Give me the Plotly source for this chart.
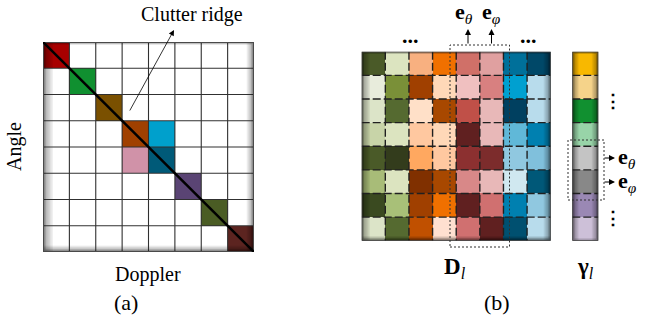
import plotly.graph_objects as go

W, H = 645, 323
SERIF = "Liberation Serif"

# ---------------- data ----------------
# Panel (a): angle-Doppler grid; 0 marks an empty cell, other values index the palette
grid_a_palette = ["#ffffff", "#a80000", "#109030", "#7a5000", "#a04000",
                  "#00a0cc", "#d092a8", "#005a78", "#5a4474", "#4a5c24", "#5c2420"]
grid_a = [
    [1, 0, 0, 0, 0, 0, 0, 0],
    [0, 2, 0, 0, 0, 0, 0, 0],
    [0, 0, 3, 0, 0, 0, 0, 0],
    [0, 0, 0, 4, 5, 0, 0, 0],
    [0, 0, 0, 6, 7, 0, 0, 0],
    [0, 0, 0, 0, 0, 8, 0, 0],
    [0, 0, 0, 0, 0, 0, 9, 0],
    [0, 0, 0, 0, 0, 0, 0, 10],
]

# Panel (b): dictionary D_l, one list of cell colours per column (top to bottom)
dict_columns = [
    ["#4a5a28", "#e8ecdc", "#dce4c8", "#c8d4a8", "#4a5a28", "#a8bc78", "#3a4a20", "#dce4c8"],
    ["#dce4c0", "#7a9038", "#556a30", "#dce4c0", "#333c1c", "#dce4c0", "#a8c078", "#556a30"],
    ["#f8b080", "#a04000", "#ffe0c8", "#ffc8a0", "#ffa860", "#803000", "#a04000", "#c05000"],
    ["#f07000", "#ffd8b8", "#a84800", "#ffd8b8", "#ffc8a0", "#a84800", "#f07000", "#ffe0d0"],
    ["#d07068", "#f0c0c0", "#c05048", "#602020", "#8c3030", "#d88888", "#602020", "#d07070"],
    ["#e0a0a0", "#d88080", "#e8b8b8", "#e8b8b8", "#7c2c2c", "#e8b8b8", "#d07070", "#602020"],
    ["#00709a", "#00a0d0", "#004060", "#60b8d8", "#90c8e0", "#d0e8f0", "#0080b0", "#005070"],
    ["#004868", "#b8dcec", "#b8dcec", "#0080b0", "#80c0dc", "#005878", "#90c8e0", "#b8dcec"],
]

# Panel (b): coefficient vector gamma_l (top to bottom)
gamma_colors = ["#f8b800", "#f5d38a", "#119030", "#98d4a8",
                "#c4c4c4", "#888888", "#9a88b4", "#cdc0d8"]

# ---------------- helpers ----------------
def px_x(v):
    return v / W


def px_y(v):
    return 1 - v / H


def palette_heatmap(color_rows, xa, ya):
    """Heatmap whose cells take the given colours via a stepped colour scale."""
    palette, z = [], []
    for row in color_rows:
        zr = []
        for c in row:
            if c not in palette:
                palette.append(c)
            zr.append(palette.index(c))
        z.append(zr)
    n = len(palette)
    scale = []
    for i, c in enumerate(palette):
        scale.append([i / n, c])
        scale.append([(i + 1) / n, c])
    return go.Heatmap(z=z, colorscale=scale, zmin=-0.5, zmax=n - 0.5,
                      showscale=False, hoverinfo="skip", xaxis=xa, yaxis=ya)


def inner_shade(shapes, xref, yref, nx, ny, side, depth, layers=7, alpha=0.06):
    """Soft inner shadow along one edge of a block of cells."""
    x0, x1, y0, y1 = -0.5, nx - 0.5, -0.5, ny - 0.5
    for k in range(layers):
        d = depth * (k + 1) / layers
        if side == "left":
            r = (x0, y0, x0 + d, y1)
        elif side == "right":
            r = (x1 - d, y0, x1, y1)
        elif side == "bottom":
            r = (x0, y1 - d, x1, y1)
        else:
            r = (x0, y0, x1, y0 + d)
        shapes.append(dict(type="rect", xref=xref, yref=yref, x0=r[0], y0=r[1],
                           x1=r[2], y1=r[3], line=dict(width=0),
                           fillcolor=f"rgba(0,0,0,{alpha})", layer="above"))


def grid_lines(shapes, xref, yref, nx, ny, color, width, dash="solid"):
    for i in range(1, nx):
        shapes.append(dict(type="line", xref=xref, yref=yref, x0=i - 0.5, x1=i - 0.5,
                           y0=-0.5, y1=ny - 0.5, line=dict(color=color, width=width, dash=dash)))
    for j in range(1, ny):
        shapes.append(dict(type="line", xref=xref, yref=yref, y0=j - 0.5, y1=j - 0.5,
                           x0=-0.5, x1=nx - 0.5, line=dict(color=color, width=width, dash=dash)))


def frame(shapes, xref, yref, nx, ny, color, width):
    # soft halo, then the solid border
    shapes.append(dict(type="rect", xref=xref, yref=yref, x0=-0.5, y0=-0.5,
                       x1=nx - 0.5, y1=ny - 0.5, line=dict(color="rgba(0,0,0,0.18)", width=width + 3)))
    shapes.append(dict(type="rect", xref=xref, yref=yref, x0=-0.5, y0=-0.5,
                       x1=nx - 0.5, y1=ny - 0.5, line=dict(color=color, width=width)))


# ---------------- traces ----------------
fig = go.Figure()
fig.add_trace(palette_heatmap([[grid_a_palette[v] for v in row] for row in grid_a], "x", "y"))
dict_rows = [[col[r] for col in dict_columns] for r in range(len(dict_columns[0]))]
fig.add_trace(palette_heatmap(dict_rows, "x2", "y2"))
fig.add_trace(palette_heatmap([[c] for c in gamma_colors], "x3", "y3"))

n_a = len(grid_a)
n_dc, n_dr = len(dict_columns), len(dict_rows)
n_g = len(gamma_colors)

shapes = []
# panel (a)
inner_shade(shapes, "x", "y", n_a, n_a, "left", 0.38)
inner_shade(shapes, "x", "y", n_a, n_a, "right", 0.28)
inner_shade(shapes, "x", "y", n_a, n_a, "bottom", 0.25)
inner_shade(shapes, "x", "y", n_a, n_a, "top", 0.08, layers=3)
grid_lines(shapes, "x", "y", n_a, n_a, "#303030", 1.1)
frame(shapes, "x", "y", n_a, n_a, "#4a4a4a", 2)
shapes.append(dict(type="line", xref="x", yref="y", x0=-0.5, y0=-0.5,
                   x1=n_a - 0.5, y1=n_a - 0.5, line=dict(color="black", width=2.5)))

# panel (b): dictionary
inner_shade(shapes, "x2", "y2", n_dc, n_dr, "left", 0.35)
inner_shade(shapes, "x2", "y2", n_dc, n_dr, "right", 0.3)
inner_shade(shapes, "x2", "y2", n_dc, n_dr, "bottom", 0.2)
grid_lines(shapes, "x2", "y2", n_dc, n_dr, "#202020", 1.4, dash="8px,3px")
frame(shapes, "x2", "y2", n_dc, n_dr, "#3a3a3a", 1.5)

# panel (b): gamma vector
inner_shade(shapes, "x3", "y3", 1, n_g, "left", 0.25)
inner_shade(shapes, "x3", "y3", 1, n_g, "right", 0.25)
grid_lines(shapes, "x3", "y3", 1, n_g, "#202020", 1.4, dash="8px,3px")
frame(shapes, "x3", "y3", 1, n_g, "#3a3a3a", 1.5)

# dotted selection boxes
shapes.append(dict(type="rect", xref="paper", yref="paper",
                   x0=px_x(450), x1=px_x(509.5), y0=px_y(247), y1=px_y(45),
                   line=dict(color="#303030", width=1, dash="2px,2px")))
shapes.append(dict(type="rect", xref="paper", yref="paper",
                   x0=px_x(568), x1=px_x(604), y0=px_y(200), y1=px_y(140),
                   line=dict(color="#303030", width=1, dash="2px,2px")))

# ---------------- text & arrows ----------------
ann = []


def label(text, x, y, size=20, xanchor="center", **kw):
    ann.append(dict(text=text, x=px_x(x), y=px_y(y), xref="paper", yref="paper",
                    xanchor=xanchor, yanchor="middle", showarrow=False,
                    font=dict(family=SERIF, size=size, color="black"), **kw))


def arrow(tip_x, tip_y, dx, dy, width=1, head=1.0):
    ann.append(dict(text="", x=px_x(tip_x), y=px_y(tip_y), xref="paper", yref="paper",
                    xanchor="center", yanchor="middle",
                    ax=dx, ay=dy, showarrow=True, arrowhead=2, arrowsize=head,
                    arrowwidth=width, arrowcolor="black"))


label("Clutter ridge", 192, 14)
arrow(174, 30, -45, 82, width=0.8, head=1.4)
label("Angle", 15, 147, textangle=-90)
label("Doppler", 148, 274)
label("(a)", 126, 302, size=22)

label("<b>e</b><sub><i>θ</i></sub>", 464, 13, size=22)
label("<b>e</b><sub><i>φ</i></sub>", 491, 13, size=22)
arrow(468, 29, 0, 16, width=1, head=1.2)
arrow(491.5, 29, 0, 16, width=1, head=1.2)

label("<b>...</b>", 410, 36, size=22)
label("<b>...</b>", 528, 36, size=22)
label("<b>⋮</b>", 613, 101, size=18)
label("<b>⋮</b>", 613, 218, size=18)

arrow(615, 158, -12, 0, width=1, head=1.2)
arrow(615, 182, -12, 0, width=1, head=1.2)
label("<b>e</b><sub><i>θ</i></sub>", 616, 158, size=22, xanchor="left")
label("<b>e</b><sub><i>φ</i></sub>", 616, 182, size=22, xanchor="left")

label("<b>D</b><sub><i>l</i></sub>", 455, 268, size=23)
label("<b>γ</b><sub><i>l</i></sub>", 585, 268, size=23)
label("(b)", 497, 302, size=22)

# ---------------- layout ----------------
hidden = dict(visible=False, showgrid=False, zeroline=False, fixedrange=True)
fig.update_layout(
    width=W, height=H, margin=dict(l=0, r=0, t=0, b=0),
    paper_bgcolor="white", plot_bgcolor="rgba(0,0,0,0)", showlegend=False,
    xaxis=dict(domain=[px_x(43), px_x(254)], range=[-0.5, n_a - 0.5], **hidden),
    yaxis=dict(domain=[px_y(252), px_y(42)], range=[n_a - 0.5, -0.5], **hidden),
    xaxis2=dict(domain=[px_x(361.7), px_x(550.7)], range=[-0.5, n_dc - 0.5], **hidden),
    yaxis2=dict(domain=[px_y(240.7), px_y(51.7)], range=[n_dr - 0.5, -0.5], **hidden),
    xaxis3=dict(domain=[px_x(572.3), px_x(598.3)], range=[-0.5, 0.5], **hidden),
    yaxis3=dict(domain=[px_y(240.7), px_y(51.7)], range=[n_g - 0.5, -0.5], **hidden),
    shapes=shapes, annotations=ann,
)

fig.write_html("out.html")
